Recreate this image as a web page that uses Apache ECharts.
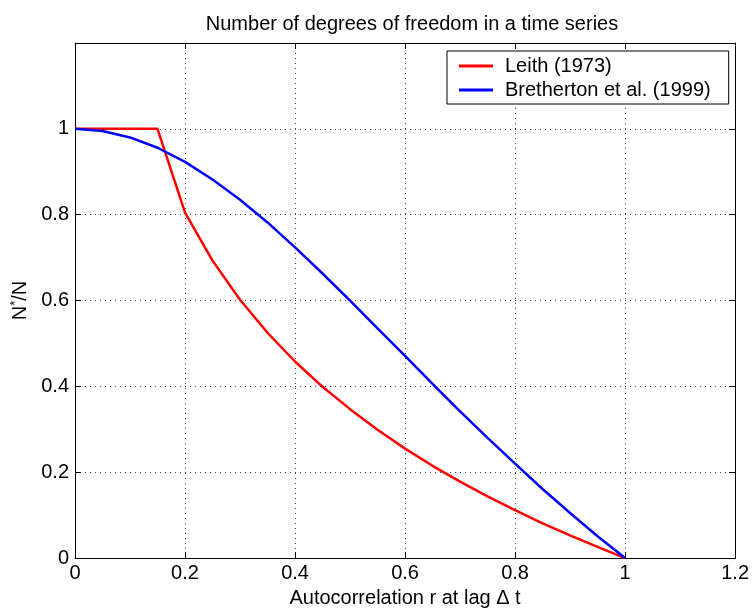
<!DOCTYPE html>
<html>
<head>
<meta charset="utf-8">
<script src="https://cdn.jsdelivr.net/npm/echarts@6/dist/echarts.min.js"></script>
<style>
  html, body { margin: 0; padding: 0; background: #fff; }
  #chart { width: 752px; height: 613px; }
</style>
</head>
<body>
<div id="chart"></div>
<script>
// Autocorrelation at lag Δt
var lagCorrelation = [0, 0.05, 0.1, 0.15, 0.2, 0.25, 0.3, 0.35, 0.4, 0.45, 0.5,
                      0.55, 0.6, 0.65, 0.7, 0.75, 0.8, 0.85, 0.9, 0.95, 1];
// Effective fraction of degrees of freedom N*/N
var leith1973 = [1, 1, 1, 1, 0.805, 0.693, 0.602, 0.525, 0.458, 0.399, 0.347,
                 0.299, 0.255, 0.215, 0.178, 0.144, 0.112, 0.081, 0.053, 0.026, 0];
var bretherton1999 = [1, 0.995, 0.980, 0.956, 0.923, 0.882, 0.835, 0.782, 0.724, 0.663, 0.600,
                      0.535, 0.471, 0.406, 0.342, 0.280, 0.220, 0.161, 0.105, 0.051, 0];
var seriesNames = ['Leith (1973)', 'Bretherton et al. (1999)'];
var axisTicks = [0, 0.2, 0.4, 0.6, 0.8, 1, 1.2];

function pairs(xs, ys) {
  return xs.map(function (x, i) { return [x, ys[i]]; });
}

var FONT = 'Liberation Sans, Arial, Helvetica, sans-serif';
var chart = echarts.init(document.getElementById('chart'), null, { renderer: 'canvas' });

var gridLine = { show: true, lineStyle: { color: '#444', width: 1, type: [1, 4] } };
var frameLine = { show: true, onZero: false, lineStyle: { color: '#000', width: 1 } };
var innerTick = { show: true, inside: true, length: 6, lineStyle: { color: '#000' } };

var tickMin = axisTicks[0], tickMax = axisTicks[axisTicks.length - 1];
var tickStep = axisTicks[1] - axisTicks[0];

chart.setOption({
  animation: false,
  backgroundColor: '#fff',
  textStyle: { fontFamily: FONT },
  title: {
    text: 'Number of degrees of freedom in a time series',
    left: 407, top: 9, textAlign: 'center',
    textStyle: { fontFamily: FONT, fontSize: 20, fontWeight: 'normal', color: '#000' }
  },
  legend: {
    orient: 'vertical',
    left: 447, top: 51,
    data: seriesNames,
    icon: 'rect',
    itemWidth: 34, itemHeight: 3,
    itemGap: 4,
    padding: [5, 18, 4, 12],
    borderColor: '#000', borderWidth: 1,
    backgroundColor: '#fff',
    textStyle: { fontFamily: FONT, fontSize: 20, color: '#000', padding: [0, 0, 0, 7] }
  },
  grid: { left: 75, right: 15, top: 43, bottom: 47, containLabel: false },
  xAxis: [{
    type: 'value', min: tickMin, max: tickMax, interval: tickStep,
    position: 'bottom',
    name: 'Autocorrelation r at lag \u0394 t',
    nameLocation: 'middle', nameGap: 25,
    nameTextStyle: { fontFamily: FONT, fontSize: 20, color: '#000' },
    axisLine: frameLine, axisTick: innerTick,
    axisLabel: { fontFamily: FONT, fontSize: 20, color: '#000', margin: 5 },
    splitLine: gridLine
  }, {
    type: 'value', min: tickMin, max: tickMax, interval: tickStep,
    position: 'top',
    axisLine: frameLine, axisTick: innerTick,
    axisLabel: { show: false }, splitLine: { show: false }
  }],
  yAxis: [{
    type: 'value', min: tickMin, max: tickMax, interval: tickStep,
    position: 'left',
    name: 'N{sup|*}/N',
    nameLocation: 'middle', nameGap: 39, nameRotate: 90,
    nameTextStyle: {
      fontFamily: FONT, fontSize: 20, color: '#000',
      rich: { sup: { fontFamily: FONT, fontSize: 13, color: '#000', verticalAlign: 'top', padding: [0, 0, 9, 0] } }
    },
    axisLine: frameLine, axisTick: innerTick,
    axisLabel: {
      fontFamily: FONT, fontSize: 20, color: '#000', margin: 6,
      formatter: function (v) { return v > 1.0001 ? '' : String(+v.toFixed(1)); }
    },
    splitLine: gridLine
  }, {
    type: 'value', min: tickMin, max: tickMax, interval: tickStep,
    position: 'right',
    axisLine: frameLine, axisTick: innerTick,
    axisLabel: { show: false }, splitLine: { show: false }
  }],
  series: [{
    name: seriesNames[0], type: 'line',
    data: pairs(lagCorrelation, leith1973),
    showSymbol: false, symbol: 'none',
    color: '#ff0000',
    lineStyle: { color: '#ff0000', width: 2.5 },
    z: 3
  }, {
    name: seriesNames[1], type: 'line',
    data: pairs(lagCorrelation, bretherton1999),
    showSymbol: false, symbol: 'none',
    color: '#0000ff',
    lineStyle: { color: '#0000ff', width: 2.5 },
    z: 4
  }]
});
</script>
</body>
</html>
